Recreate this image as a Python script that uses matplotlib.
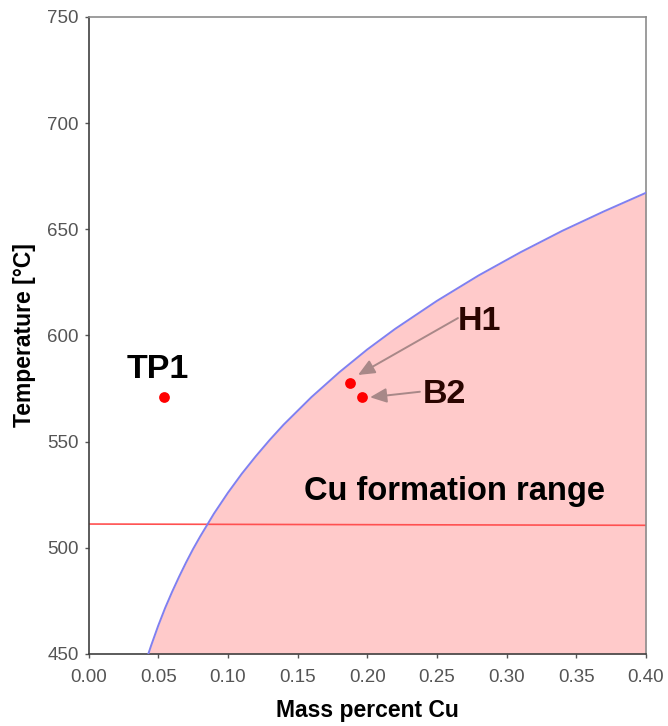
import matplotlib
matplotlib.use('Agg')
import matplotlib.pyplot as plt

plt.rcParams['font.family'] = ['Liberation Sans', 'DejaVu Sans']

# solubility curve
curve_x = [0.0429, 0.045, 0.05, 0.055, 0.06, 0.065, 0.07, 0.075, 0.08, 0.09,
           0.10, 0.11, 0.12, 0.13, 0.14, 0.16, 0.18, 0.20, 0.22, 0.25,
           0.28, 0.31, 0.34, 0.37, 0.40]
curve_t = [450.0, 454.1, 463.3, 471.7, 479.3, 486.4, 493.1, 499.4, 505.2, 516.1,
           525.9, 534.9, 543.1, 550.8, 558.0, 571.0, 582.7, 593.4, 603.1, 616.3,
           628.3, 639.2, 649.3, 658.5, 667.2]

# horizontal red line
line_x = [0.0, 0.40]
line_t = [511.2, 510.6]

# samples
sample_names = ['TP1', 'H1', 'B2']
sample_x = [0.0542, 0.1877, 0.1965]
sample_t = [571.0, 577.8, 571.2]

x_ticks = [0.00, 0.05, 0.10, 0.15, 0.20, 0.25, 0.30, 0.35, 0.40]
y_ticks = [450, 500, 550, 600, 650, 700, 750]

fig = plt.figure(figsize=(6.68, 7.26), dpi=100)
ax = fig.add_axes([0.1325, 0.0992, 0.8345, 0.8774])

ax.fill_between(curve_x, 450, curve_t, color='#ffcaca', lw=0, zorder=1)
ax.plot(curve_x, curve_t, color='#8080f0', lw=1.4, zorder=3)
ax.plot(line_x, line_t, color='#ff5050', lw=1.2, zorder=2)
ax.scatter(sample_x, sample_t, s=60, color='#ff0000', zorder=4, linewidths=0)

# labels (baseline positions)
ax.text(0.0499, 579.8, 'TP1', fontsize=24.5, fontweight='bold', color='black',
        ha='center', va='baseline')
ax.text(0.2809, 602.6, 'H1', fontsize=24.5, fontweight='bold', color='#2a0500',
        ha='center', va='baseline')
ax.text(0.2551, 568.0, 'B2', fontsize=24.5, fontweight='bold', color='#2a0500',
        ha='center', va='baseline')
ax.text(0.2626, 522.5, 'Cu formation range', fontsize=23.5, fontweight='bold',
        color='black', ha='center', va='baseline')

arrow = dict(arrowstyle='-|>,head_length=0.5,head_width=0.22', color='#a88888',
             lw=1.4, mutation_scale=20, shrinkA=0, shrinkB=0)
ax.annotate('', xy=(0.1934, 581.4), xytext=(0.2651, 608.2), arrowprops=arrow)
ax.annotate('', xy=(0.2020, 570.9), xytext=(0.2378, 573.5), arrowprops=arrow)

ax.set_xlim(0, 0.40)
ax.set_ylim(450, 750)
ax.set_xticks(x_ticks)
ax.set_xticklabels(['%.2f' % v for v in x_ticks])
ax.set_yticks(y_ticks)
ax.tick_params(axis='both', labelsize=13.5, colors='#555555', length=3,
               width=1, direction='out')
ax.tick_params(axis='x', pad=8)
ax.tick_params(axis='y', pad=4)

for side in ['left', 'bottom']:
    ax.spines[side].set_color('#404040')
    ax.spines[side].set_linewidth(1.2)
for side in ['top', 'right']:
    ax.spines[side].set_color('#8c8c8c')
    ax.spines[side].set_linewidth(1.2)

ax.set_xlabel('Mass percent Cu', fontsize=16.5, fontweight='bold', labelpad=9)
ax.set_ylabel('Temperature [°C]', fontsize=16.5, fontweight='bold', labelpad=8)

fig.savefig('out.png', dpi=100)
